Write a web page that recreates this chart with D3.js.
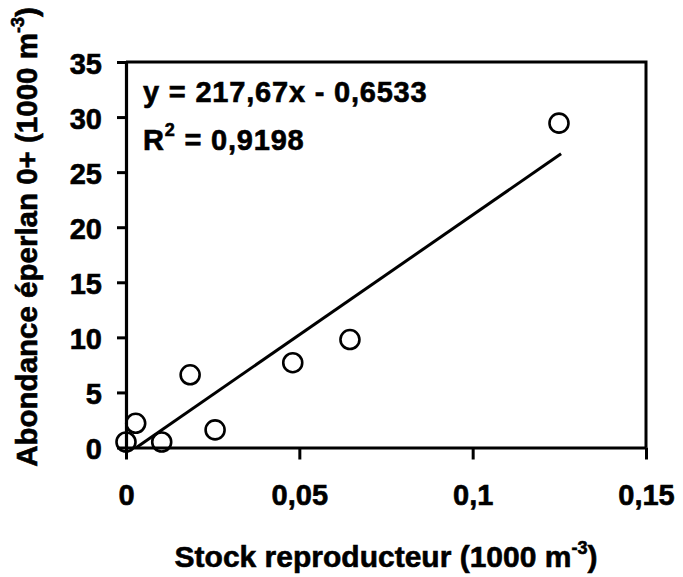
<!DOCTYPE html>
<html>
<head>
<meta charset="utf-8">
<script src="https://cdn.jsdelivr.net/npm/d3@7"></script>
<style>
  html, body { margin: 0; padding: 0; background: #fff; }
  svg text { font-family: "Liberation Sans", Arial, Helvetica, sans-serif; font-weight: bold; fill: #000; stroke: #000; stroke-width: 0.6px; }
</style>
</head>
<body>
<svg id="chart" width="683" height="577"></svg>
<script>
// ---- data ----
const stock = [0, 0.0028, 0.0103, 0.0185, 0.0257, 0.0481, 0.0646, 0.1249];
const abondance = [0.5, 2.2, 0.5, 6.6, 1.6, 7.7, 9.8, 29.45];
const slope = 217.67;
const intercept = -0.6533;
const xTicks = [0, 0.05, 0.1, 0.15];
const xTickLabels = ["0", "0,05", "0,1", "0,15"];
const yTicks = [0, 5, 10, 15, 20, 25, 30, 35];
const yTickLabels = ["0", "5", "10", "15", "20", "25", "30", "35"];
const equationText = "y = 217,67x - 0,6533";
const r2Label = "0,9198";
const xTitle = "Stock reproducteur (1000 m";
const yTitle = "Abondance éperlan 0+ (1000 m";

// ---- layout ----
const mLeft = 126, mRight = 646, mTop = 62, mBottom = 447.5;
const svg = d3.select("#chart");

const x = d3.scaleLinear().domain([0, 0.15]).range([mLeft, mRight]);
const y = d3.scaleLinear().domain([0, 35]).range([mBottom, mTop]);

// box (top & right)
svg.append("path")
  .attr("d", `M${x(0)},${y(35)}H${x(0.15)}V${y(0)}`)
  .attr("fill", "none").attr("stroke", "#000").attr("stroke-width", 3);

// x axis
const xAxis = svg.append("g")
  .attr("transform", `translate(0,${mBottom})`)
  .call(d3.axisBottom(x).tickValues(xTicks)
    .tickFormat((d, i) => xTickLabels[i]).tickSize(12).tickSizeOuter(0).tickPadding(25));
xAxis.select(".domain").attr("stroke-width", 3.2);
xAxis.selectAll(".tick line").attr("stroke-width", 3);
xAxis.selectAll(".tick text").attr("font-size", 29).attr("font-family", null).attr("dy", "0.71em");

// y axis
const yAxis = svg.append("g")
  .attr("transform", `translate(${mLeft},0)`)
  .call(d3.axisLeft(y).tickValues(yTicks)
    .tickFormat((d, i) => yTickLabels[i]).tickSize(9).tickSizeOuter(0).tickPadding(15));
yAxis.select(".domain").attr("stroke-width", 3.2);
yAxis.selectAll(".tick line").attr("stroke-width", 3);
yAxis.selectAll(".tick text").attr("font-size", 29).attr("font-family", null).attr("dy", "0.38em");
svg.selectAll(".tick text").style("font-family", "'Liberation Sans', Arial, sans-serif").style("font-weight", "bold");

// regression line
const xStart = -intercept / slope;
const xEnd = 0.1255;
svg.append("line")
  .attr("x1", x(xStart)).attr("y1", y(slope * xStart + intercept))
  .attr("x2", x(xEnd)).attr("y2", y(slope * xEnd + intercept))
  .attr("stroke", "#000").attr("stroke-width", 3);

// points
svg.append("g").selectAll("circle")
  .data(stock.map((s, i) => [s, abondance[i]]))
  .join("circle")
  .attr("cx", d => x(d[0])).attr("cy", d => y(d[1]))
  .attr("r", 9.5).attr("fill", "none").attr("stroke", "#000").attr("stroke-width", 2.6);

// equation
svg.append("text").attr("x", 143).attr("y", 102).attr("font-size", 29)
  .attr("letter-spacing", 0.8).text(equationText);
const r2 = svg.append("text").attr("x", 143).attr("y", 150).attr("font-size", 29).attr("letter-spacing", 0.8);
r2.append("tspan").text("R");
r2.append("tspan").attr("font-size", 18).attr("dy", -14).text("2");
r2.append("tspan").attr("dy", 14).text(" = " + r2Label);

// x title
const xt = svg.append("text").attr("x", (mLeft + mRight) / 2).attr("y", 567)
  .attr("text-anchor", "middle").attr("font-size", 30);
xt.append("tspan").text(xTitle);
xt.append("tspan").attr("font-size", 18).attr("dy", -13).text("-3");
xt.append("tspan").attr("dy", 13).text(")");

// y title
const yt = svg.append("text")
  .attr("transform", `translate(37,237) rotate(-90)`)
  .attr("text-anchor", "middle").attr("font-size", 29.5);
yt.append("tspan").text(yTitle);
yt.append("tspan").attr("font-size", 18).attr("dy", -13).text("-3");
yt.append("tspan").attr("dy", 13).text(")");
</script>
</body>
</html>
